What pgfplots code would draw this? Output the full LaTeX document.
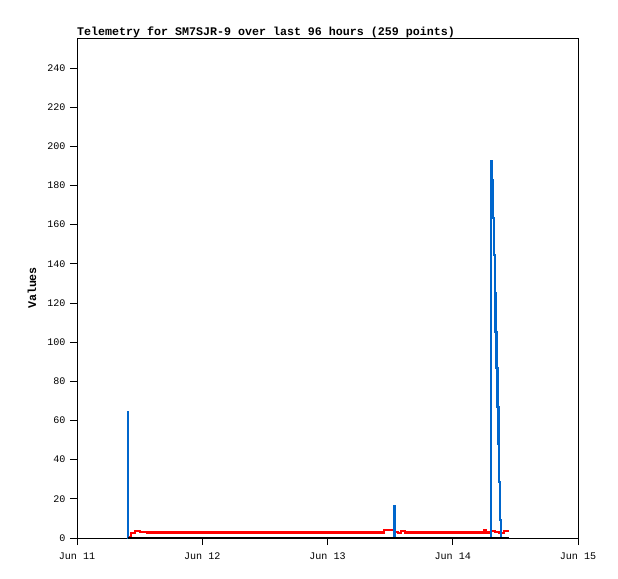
\documentclass[border=0pt]{standalone}
\usepackage{fontspec}
\setmainfont{Liberation Mono}
\usepackage{pgfplots}
\pgfplotsset{compat=1.18}
\definecolor{tblue}{RGB}{0,102,204}
\definecolor{tred}{RGB}{255,0,0}
\begin{document}
\begin{tikzpicture}
\begin{axis}[
  name=ax,
  scale only axis,
  width=501bp, height=500bp,
  xmin=0, xmax=4, ymin=0, ymax=255.3,
  xtick={0,1,2,3,4},
  xticklabels={Jun 11,Jun 12,Jun 13,Jun 14,Jun 15},
  ytick={0,20,...,240},
  tick align=outside,
  major tick length=7bp,
  xtick pos=bottom, ytick pos=left,
  tick style={black, line width=0.8bp},
  axis line style={black, line width=0.8bp},
  /pgf/number format/assume math mode=true,
  ticklabel style={font=\fontsize{10.1}{11}\selectfont},
  yticklabel style={xshift=-1bp},
  xticklabel style={yshift=-4.5bp},
  title={Telemetry for SM7SJR-9 over last 96 hours (259 points)},
  title style={at={(0,1)}, anchor=south west, font=\fontsize{11.7}{13}\selectfont\bfseries, inner sep=0pt, yshift=-6bp},
  ylabel={Values},
  ylabel style={font=\fontsize{11.7}{13}\selectfont\bfseries, at={(axis description cs:-0.09,0.5)}, anchor=center},
  clip=false,
]
% red series
\addplot[const plot, color=tred, line width=2.2bp] coordinates {
(0.407,0.6)(0.431,2.7)(0.463,3.7)(0.503,3.1)(0.559,2.8)(2.451,3.9)(2.531,3.0)(2.563,2.7)(2.587,3.5)(2.619,2.8)(3.250,3.9)(3.261,2.8)(3.305,3.6)(3.337,3.2)(3.369,2.7)(3.409,3.6)(3.449,3.6)
};
% blue series
\addplot[const plot, color=tblue, line width=2.2bp] coordinates {
(0.407,0)(0.407,64.3)(0.4085,0)(2.531,0)(2.531,16.3)(2.536,8.2)(2.540,0)
(3.305,0)(3.305,192.5)(3.3125,182.8)(3.320,163.2)(3.327,144.5)(3.335,124.9)(3.342,105.3)(3.350,86.6)(3.357,67.0)(3.365,48.3)(3.372,28.7)(3.380,9.2)(3.387,0)(3.449,0)
};
% black series
\addplot[color=black, line width=2.4bp] coordinates {(0.407,0)(3.449,0)};
\end{axis}
\path (ax.south west) ++(-77bp,-41bp) rectangle ++(618bp,579bp);
\end{tikzpicture}
\end{document}
